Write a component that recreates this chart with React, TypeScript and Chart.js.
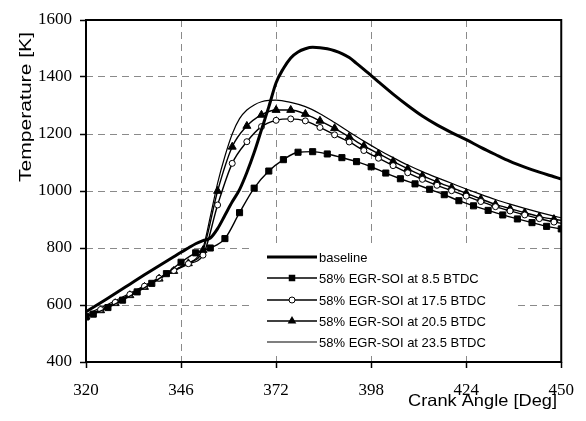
import React, { useEffect, useRef } from "react";
import { Chart, registerables } from "chart.js";

Chart.register(...registerables);

// ---------- data ----------
const xTicks = [320, 346, 372, 398, 424, 450];
const yTicks = [400, 600, 800, 1000, 1200, 1400, 1600];

const seriesLabels = [
  "baseline",
  "58% EGR-SOI at 8.5 BTDC",
  "58% EGR-SOI at 17.5 BTDC",
  "58% EGR-SOI at 20.5 BTDC",
  "58% EGR-SOI at 23.5 BTDC",
];

const baselineAngles = [320, 324, 328, 332, 336, 340, 344, 346, 348, 350, 352, 354, 356, 358, 360, 362, 364, 366, 368, 370, 372, 374, 376, 378, 380, 382, 384, 386, 388, 390, 392, 394, 396, 398, 400, 404, 408, 412, 416, 420, 424, 428, 432, 436, 440, 444, 448, 450];
const baselineTemps = [576, 608, 640, 673, 706, 738, 769, 785, 800, 815, 826, 835, 868, 915, 962, 1005, 1065, 1135, 1215, 1295, 1380, 1430, 1467, 1488, 1499, 1504, 1503, 1499, 1492, 1482, 1468, 1448, 1427, 1405, 1383, 1340, 1300, 1263, 1232, 1205, 1180, 1153, 1128, 1104, 1084, 1066, 1050, 1042];

const soi85Angles = [320, 322, 326, 330, 334, 338, 342, 346, 350, 354, 358, 362, 366, 370, 374, 378, 382, 386, 390, 394, 398, 402, 406, 410, 414, 418, 422, 426, 430, 434, 438, 442, 446, 450];
const soi85Temps = [558, 568, 591, 617, 646, 676, 710, 750, 783, 800, 833, 924, 1010, 1070, 1110, 1136, 1138, 1130, 1117, 1103, 1085, 1063, 1043, 1025, 1006, 987, 966, 948, 932, 916, 902, 889, 876, 867];

const markerAngles = [320, 324, 328, 332, 336, 340, 344, 348, 352, 356, 360, 364, 368, 372, 376, 380, 384, 388, 392, 396, 400, 404, 408, 412, 416, 420, 424, 428, 432, 436, 440, 444, 448, 450];
const soi175Temps = [562, 584, 609, 637, 666, 694, 721, 745, 775, 951, 1097, 1173, 1226, 1248, 1253, 1246, 1223, 1197, 1172, 1142, 1115, 1089, 1064, 1041, 1020, 1001, 982, 963, 945, 930, 916, 903, 891, 887];
const soi205Temps = [559, 581, 606, 634, 663, 692, 719, 746, 792, 1000, 1155, 1228, 1267, 1284, 1284, 1270, 1246, 1220, 1190, 1158, 1131, 1104, 1078, 1054, 1032, 1012, 992, 972, 953, 938, 924, 910, 901, 897];

const soi235Angles = [320, 328, 336, 344, 348, 350, 352, 354, 356, 358, 360, 362, 364, 366, 368, 370, 372, 376, 380, 384, 388, 392, 396, 400, 404, 408, 412, 416, 420, 424, 428, 432, 436, 440, 444, 448, 450];
const soi235Temps = [566, 615, 668, 722, 748, 762, 800, 910, 1028, 1122, 1200, 1254, 1284, 1302, 1313, 1318, 1319, 1311, 1296, 1271, 1240, 1207, 1175, 1145, 1117, 1091, 1068, 1047, 1027, 1007, 988, 970, 954, 939, 925, 912, 906];

const toPoints = (xs: number[], ys: number[]) => xs.map((x, i) => ({ x, y: ys[i] }));

// draw text stretched along its direction to a target length
const fitText = (
  ctx: CanvasRenderingContext2D,
  text: string,
  targetWidth: number
) => {
  const w = ctx.measureText(text).width;
  const k = targetWidth / w;
  ctx.scale(k, 1);
  ctx.fillText(text, 0, 0);
};

// ---------- plugins ----------
const legendPlugin = {
  id: "inlineLegend",
  beforeDatasetsDraw(chart: any) {
    const ctx = chart.ctx as CanvasRenderingContext2D;
    ctx.save();
    ctx.fillStyle = "#ffffff";
    ctx.fillRect(251, 244, 262, 108);
    const x0 = 267;
    const x1 = 317;
    const rows = [257, 278, 300, 321, 342];
    chart.data.datasets.forEach((ds: any, i: number) => {
      const y = rows[i];
      ctx.strokeStyle = "#000";
      ctx.lineWidth = ds.borderWidth;
      ctx.beginPath();
      ctx.moveTo(x0, y);
      ctx.lineTo(x1, y);
      ctx.stroke();
      const cx = (x0 + x1) / 2;
      const style = ds.pointStyle;
      const r = ds.legendRadius || 0;
      ctx.lineWidth = 1;
      if (r > 0) {
        ctx.beginPath();
        if (style === "rect") {
          const s = r * Math.SQRT1_2;
          ctx.rect(cx - s, y - s, 2 * s, 2 * s);
          ctx.fillStyle = "#000";
          ctx.fill();
        } else if (style === "circle") {
          ctx.arc(cx, y, r, 0, Math.PI * 2);
          ctx.fillStyle = "#fff";
          ctx.fill();
          ctx.stroke();
        } else if (style === "triangle") {
          ctx.moveTo(cx, y - r);
          ctx.lineTo(cx + r * 0.866, y + r / 2);
          ctx.lineTo(cx - r * 0.866, y + r / 2);
          ctx.closePath();
          ctx.fillStyle = "#000";
          ctx.fill();
        }
      }
      ctx.fillStyle = "#000";
      ctx.font = "13px Liberation Sans, Arial, sans-serif";
      ctx.textBaseline = "middle";
      ctx.textAlign = "left";
      ctx.fillText(ds.label, 319, y + 1);
    });
    ctx.restore();
  },
};

const framePlugin = {
  id: "frameAndTitles",
  afterDatasetsDraw(chart: any) {
    const ctx = chart.ctx as CanvasRenderingContext2D;
    const a = chart.chartArea;
    ctx.save();
    ctx.strokeStyle = "#000";
    ctx.lineWidth = 2;
    ctx.strokeRect(a.left, a.top, a.right - a.left, a.bottom - a.top);
    ctx.fillStyle = "#000";
    ctx.font = "16.5px Liberation Sans, Arial, sans-serif";
    ctx.textBaseline = "middle";
    ctx.textAlign = "left";
    ctx.save();
    ctx.translate(408, 401);
    fitText(ctx, "Crank Angle [Deg]", 149);
    ctx.restore();
    ctx.save();
    ctx.translate(26, 182);
    ctx.rotate(-Math.PI / 2);
    fitText(ctx, "Temperature [K]", 150);
    ctx.restore();
    ctx.restore();
  },
};

export default function App() {
  const ref = useRef<HTMLCanvasElement | null>(null);

  useEffect(() => {
    if (!ref.current) return;
    const showSquare = (c: any) => {
      const x = c.raw ? c.raw.x : 0;
      return x === 320 || x % 4 === 2 ? 4.3 : 0;
    };
    const every4 = (r: number) => (c: any) => {
      const x = c.raw ? c.raw.x : 0;
      return x % 4 === 0 ? r : 0;
    };
    const serifFamily = "Liberation Serif, Times New Roman, Times, DejaVu Serif, serif";
    const chart = new Chart(ref.current, {
      type: "line",
      data: {
        datasets: [
          {
            label: seriesLabels[0],
            data: toPoints(baselineAngles, baselineTemps),
            borderColor: "#000",
            borderWidth: 3,
            pointRadius: 0,
            cubicInterpolationMode: "monotone",
            legendRadius: 0,
          } as any,
          {
            label: seriesLabels[1],
            data: toPoints(soi85Angles, soi85Temps),
            borderColor: "#000",
            borderWidth: 1.4,
            pointStyle: "rect",
            pointRadius: showSquare,
            pointBackgroundColor: "#000",
            pointBorderColor: "#000",
            pointBorderWidth: 1,
            cubicInterpolationMode: "monotone",
            legendRadius: 4.6,
          } as any,
          {
            label: seriesLabels[2],
            data: toPoints(markerAngles, soi175Temps),
            borderColor: "#000",
            borderWidth: 1.4,
            pointStyle: "circle",
            pointRadius: every4(3),
            pointBackgroundColor: "#fff",
            pointBorderColor: "#000",
            pointBorderWidth: 1,
            cubicInterpolationMode: "monotone",
            legendRadius: 3,
          } as any,
          {
            label: seriesLabels[3],
            data: toPoints(markerAngles, soi205Temps),
            borderColor: "#000",
            borderWidth: 1.4,
            pointStyle: "triangle",
            pointRadius: every4(4.6),
            pointBackgroundColor: "#000",
            pointBorderColor: "#000",
            pointBorderWidth: 1,
            cubicInterpolationMode: "monotone",
            legendRadius: 5,
          } as any,
          {
            label: seriesLabels[4],
            data: toPoints(soi235Angles, soi235Temps),
            borderColor: "#000",
            borderWidth: 1.2,
            pointRadius: 0,
            cubicInterpolationMode: "monotone",
            legendRadius: 0,
          } as any,
        ],
      },
      options: {
        animation: false,
        responsive: true,
        maintainAspectRatio: false,
        devicePixelRatio: 1,
        layout: { padding: { left: 0, top: 20, right: 22, bottom: 0 } },
        plugins: {
          legend: { display: false },
          tooltip: { enabled: false },
          title: { display: false },
        },
        scales: {
          x: {
            type: "linear",
            min: 320,
            max: 450,
            afterBuildTicks: (s: any) => {
              s.ticks = xTicks.map((v) => ({ value: v }));
            },
            afterFit: (s: any) => {
              s.height = 59;
            },
            grid: {
              color: (c: any) =>
                c.tick && (c.tick.value === xTicks[0] || c.tick.value === xTicks[xTicks.length - 1])
                  ? "rgba(0,0,0,0)"
                  : "#8a8a8a",
              lineWidth: 1,
              drawTicks: true,
              tickLength: 6,
              tickColor: "#000",
              tickWidth: 1.5,
            },
            border: { display: false, dash: [7, 5] },
            ticks: {
              color: "#000",
              font: { family: serifFamily, size: 17 },
              padding: 12,
              maxRotation: 0,
              autoSkip: false,
              callback: (v: any) => String(v),
            },
          },
          y: {
            type: "linear",
            min: 400,
            max: 1600,
            afterBuildTicks: (s: any) => {
              s.ticks = yTicks.map((v) => ({ value: v }));
            },
            afterFit: (s: any) => {
              s.width = 86;
            },
            grid: {
              color: (c: any) =>
                c.tick && (c.tick.value === yTicks[0] || c.tick.value === yTicks[yTicks.length - 1])
                  ? "rgba(0,0,0,0)"
                  : "#8a8a8a",
              lineWidth: 1,
              drawTicks: true,
              tickLength: 6,
              tickColor: "#000",
              tickWidth: 1.5,
            },
            border: { display: false, dash: [7, 5] },
            ticks: {
              color: "#000",
              font: { family: serifFamily, size: 17 },
              padding: 8,
              autoSkip: false,
              callback: (v: any) => String(v),
            },
          },
        },
      },
      plugins: [legendPlugin, framePlugin],
    } as any);
    return () => chart.destroy();
  }, []);

  return (
    <div style={{ position: "fixed", left: 0, top: 0, width: 586, height: 421, background: "#fff" }}>
      <canvas ref={ref} />
    </div>
  );
}
